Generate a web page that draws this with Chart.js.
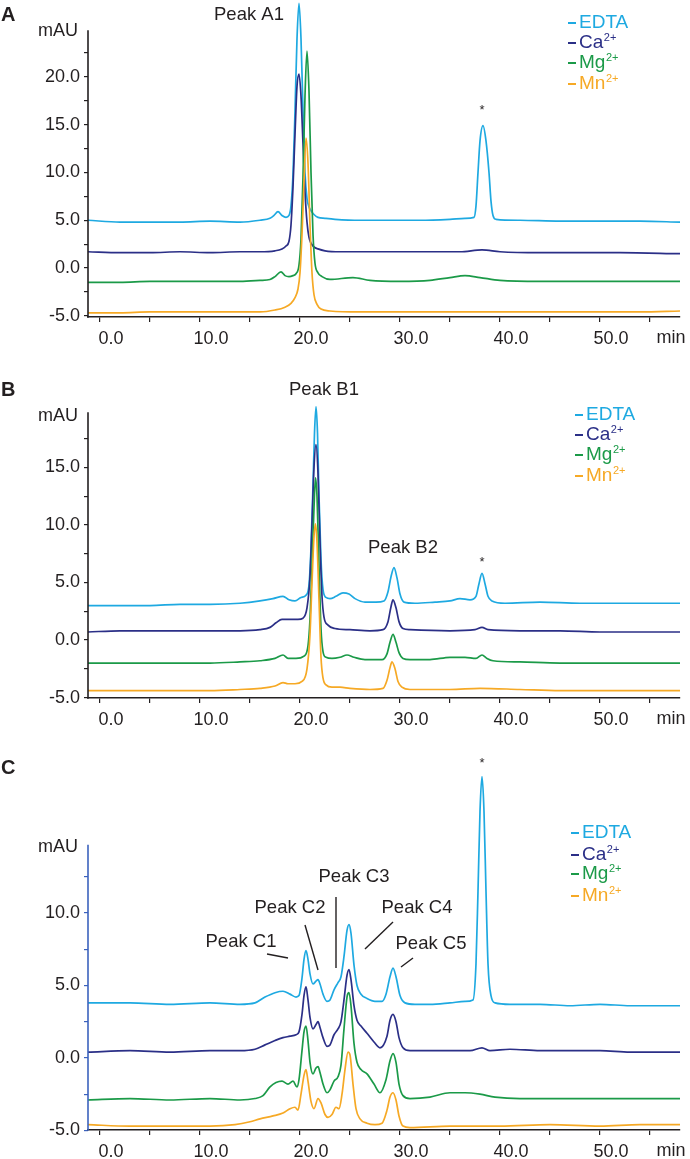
<!DOCTYPE html>
<html>
<head>
<meta charset="utf-8">
<title>Chromatograms A-C</title>
<script src="https://cdn.jsdelivr.net/npm/chart.js@4.4.1/dist/chart.umd.min.js"></script>
<style>
  body { margin: 0; background: #fff; width: 690px; height: 1159px; position: relative; overflow: hidden; }
  .panel { position: absolute; left: 0; width: 690px; }
</style>
</head>
<body>
<div class="panel" style="top:0;height:360px"><canvas id="chartA"></canvas></div>
<div class="panel" style="top:360px;height:380px"><canvas id="chartB"></canvas></div>
<div class="panel" style="top:740px;height:419px"><canvas id="chartC"></canvas></div>

<script>
// series
const seriesNames = ['EDTA', 'Ca', 'Mg', 'Mn'];
const seriesCharges = ['', '2+', '2+', '2+'];
const seriesColors = ['#1ea9e1', '#2b2f87', '#1b9a48', '#f6a925'];

// axis ticks
const xTickValues = [0, 5, 10, 15, 20, 25, 30, 35, 40, 45, 50, 55];
const yTicksA = [-5, -2.5, 0, 2.5, 5, 7.5, 10, 12.5, 15, 17.5, 20, 22.5];
const yTicksB = [-5, -2.5, 0, 2.5, 5, 7.5, 10, 12.5, 15, 17.5];
const yTicksC = [-5, -2.5, 0, 2.5, 5, 7.5, 10, 12.5];

// panel A  [min, mAU]
const aEdta = [[-1.2,5.0],[2,4.8],[5,4.8],[8,4.8],[11,4.9],[14,4.8],[16,5.0],[17.0,5.2],[17.4,5.5],[17.8,5.9],[18.2,5.5],[18.6,5.3],[18.9,5.5],[19.1,6.5],[19.3,9.8],[19.5,16.4],[19.7,24.0],[19.9,27.7],[20.1,24.0],[20.3,16.5],[20.5,10.0],[20.7,7.3],[20.9,6.4],[21.1,6.0],[21.4,5.6],[21.8,5.3],[22.5,5.2],[23.5,5.1],[26,5.0],[29,5.0],[32,5.0],[35,5.1],[36.5,5.2],[37.4,5.3],[37.6,6.5],[37.8,10.0],[38.0,13.3],[38.3,14.9],[38.6,13.3],[38.9,10.0],[39.1,7.0],[39.3,5.5],[39.6,5.1],[42,5.0],[46,4.9],[50,4.9],[54,4.9],[58,4.8]];
const aCa = [[-1.2,1.7],[2,1.6],[5,1.6],[8,1.7],[11,1.6],[14,1.7],[16,1.7],[17.5,1.8],[18.2,2.0],[18.6,2.3],[18.9,2.8],[19.1,4.5],[19.3,8.5],[19.5,14.0],[19.7,19.0],[19.9,20.3],[20.1,18.0],[20.3,13.0],[20.5,8.0],[20.7,4.8],[20.9,3.2],[21.1,2.6],[21.4,2.2],[21.8,2.0],[22.5,1.8],[24,1.7],[28,1.7],[32,1.7],[36,1.7],[38.2,1.9],[40,1.7],[44,1.6],[48,1.6],[52,1.6],[58,1.5]];
const aMg = [[-1.2,-1.5],[2,-1.5],[5,-1.4],[8,-1.4],[11,-1.4],[14,-1.4],[16,-1.3],[17.0,-1.2],[17.5,-0.9],[18.1,-0.4],[18.5,-0.8],[18.9,-0.9],[19.3,-0.8],[19.6,-0.6],[19.9,0.3],[20.1,3.0],[20.3,9.5],[20.5,18.0],[20.7,22.7],[20.9,18.5],[21.1,10.0],[21.3,3.5],[21.5,0.5],[21.8,-0.5],[22.2,-0.9],[23,-1.2],[25.3,-1.0],[27,-1.3],[30,-1.4],[33,-1.3],[35,-1.0],[36.5,-0.8],[38,-1.0],[40,-1.3],[44,-1.4],[48,-1.4],[52,-1.4],[58,-1.4]];
const aMn = [[-1.2,-4.7],[2,-4.7],[5,-4.6],[8,-4.6],[11,-4.6],[14,-4.6],[16,-4.6],[17.5,-4.4],[18.5,-4.1],[19.1,-3.7],[19.5,-3.1],[19.8,-2.2],[20.0,-0.5],[20.2,3.5],[20.4,9.0],[20.6,13.6],[20.8,11.0],[21.0,4.5],[21.2,-0.5],[21.4,-2.8],[21.7,-3.8],[22.1,-4.3],[23,-4.5],[26,-4.6],[30,-4.6],[35,-4.6],[40,-4.6],[45,-4.6],[50,-4.6],[54,-4.6],[58,-4.5]];

// panel B
const bEdta = [[-1.2,3.0],[2,3.0],[5,3.0],[8,3.1],[11,3.1],[14,3.2],[16,3.4],[17.3,3.6],[18.3,3.8],[18.9,3.5],[19.5,3.4],[20.1,3.7],[20.6,3.9],[20.9,4.8],[21.1,8.0],[21.3,13.5],[21.45,18.0],[21.6,20.3],[21.75,18.0],[21.9,12.5],[22.1,7.0],[22.3,4.4],[22.6,3.7],[23.0,3.6],[23.6,3.8],[24.3,4.1],[24.9,4.0],[25.5,3.6],[26.5,3.3],[27.6,3.3],[28.4,3.4],[28.8,4.2],[29.1,5.5],[29.4,6.3],[29.7,5.4],[30.0,4.0],[30.4,3.3],[31.5,3.2],[33.5,3.3],[35,3.4],[36,3.6],[37.0,3.5],[37.6,3.8],[37.9,4.9],[38.2,5.8],[38.5,4.9],[38.8,3.8],[39.2,3.4],[40.5,3.2],[44,3.3],[48,3.2],[52,3.2],[55,3.2],[58,3.2]];
const bCa = [[-1.2,0.7],[2,0.8],[5,0.8],[8,0.8],[11,0.8],[14,0.8],[16,0.9],[17.0,1.1],[17.6,1.5],[18.2,1.8],[19.0,1.8],[19.8,1.8],[20.3,1.9],[20.7,2.8],[21.0,5.5],[21.2,10.0],[21.4,15.0],[21.6,17.0],[21.8,14.5],[22.0,8.5],[22.2,3.8],[22.4,2.0],[22.8,1.3],[23.5,1.0],[25,0.9],[27,0.8],[28.3,0.9],[28.8,1.6],[29.1,2.9],[29.3,3.5],[29.6,2.8],[29.9,1.6],[30.3,1.0],[31,0.9],[35,0.8],[37.5,0.9],[38.2,1.1],[38.8,0.9],[42,0.8],[46,0.8],[50,0.7],[54,0.7],[58,0.7]];
const bMg = [[-1.2,-2.0],[2,-2.0],[5,-2.0],[8,-2.0],[11,-2.0],[14,-1.9],[16,-1.8],[17.5,-1.6],[18.3,-1.3],[18.8,-1.6],[19.6,-1.6],[20.4,-1.4],[20.8,-0.5],[21.0,1.8],[21.2,6.5],[21.4,11.5],[21.55,14.1],[21.7,12.5],[21.9,6.5],[22.1,1.0],[22.3,-1.0],[22.6,-1.5],[23.2,-1.6],[24.0,-1.5],[24.7,-1.3],[25.4,-1.5],[26.5,-1.7],[28.2,-1.7],[28.7,-1.2],[29.0,-0.2],[29.3,0.5],[29.6,-0.2],[29.9,-1.1],[30.3,-1.6],[31,-1.7],[33,-1.7],[35,-1.5],[36.5,-1.5],[37.6,-1.6],[38.2,-1.3],[38.7,-1.6],[39.3,-1.8],[42,-1.9],[46,-2.0],[50,-2.0],[54,-2.0],[58,-2.0]];
const bMn = [[-1.2,-4.4],[2,-4.4],[5,-4.4],[8,-4.4],[11,-4.4],[14,-4.3],[16,-4.2],[17.5,-4.0],[18.3,-3.7],[18.8,-3.8],[19.5,-3.8],[20.2,-3.6],[20.7,-2.5],[21.0,0.5],[21.2,5.0],[21.4,9.0],[21.55,10.1],[21.7,8.5],[21.9,3.5],[22.1,-1.5],[22.3,-3.3],[22.6,-3.9],[23.2,-4.1],[24,-4.1],[25,-4.2],[27,-4.3],[28.3,-4.2],[28.7,-3.5],[29.0,-2.4],[29.2,-1.9],[29.5,-2.5],[29.8,-3.6],[30.2,-4.1],[31,-4.3],[35,-4.3],[38,-4.2],[42,-4.3],[46,-4.4],[50,-4.4],[54,-4.4],[58,-4.4]];

// panel C
const cEdta = [[-1.2,3.8],[3,3.8],[7,3.7],[11,3.8],[14,3.7],[15.5,3.8],[16.5,4.2],[17.5,4.5],[18.3,4.6],[19.0,4.4],[19.6,4.2],[19.9,4.3],[20.2,5.5],[20.4,6.8],[20.6,7.4],[20.8,6.8],[21.0,5.8],[21.3,5.1],[21.6,5.3],[21.8,5.4],[22.0,5.1],[22.3,4.4],[22.7,3.9],[23.0,4.0],[23.4,4.7],[23.8,5.2],[24.1,5.6],[24.4,7.0],[24.7,8.8],[24.9,9.2],[25.1,8.6],[25.4,6.4],[25.7,5.0],[26.1,4.4],[26.7,4.1],[27.5,3.9],[28.2,3.9],[28.6,4.4],[29.0,5.6],[29.3,6.2],[29.6,5.6],[30.0,4.3],[30.5,3.8],[31.5,3.7],[33,3.7],[35,3.8],[36.5,3.9],[37.3,4.0],[37.6,6.5],[37.8,11.5],[38.0,17.0],[38.2,19.4],[38.4,17.0],[38.6,11.5],[38.8,6.5],[39.1,4.3],[39.5,3.8],[41,3.7],[44,3.7],[47,3.6],[50,3.7],[53,3.6],[56,3.6],[58,3.6]];
const cCa = [[-1.2,0.4],[3,0.5],[7,0.4],[11,0.5],[14,0.5],[15.5,0.6],[16.5,0.9],[17.5,1.2],[18.3,1.4],[19.0,1.5],[19.6,1.6],[19.9,1.8],[20.2,3.0],[20.4,4.3],[20.6,4.9],[20.8,4.0],[21.0,2.8],[21.3,2.0],[21.6,2.3],[21.8,2.5],[22.0,2.1],[22.3,1.4],[22.7,0.8],[23.0,0.9],[23.4,1.6],[23.8,2.0],[24.1,2.5],[24.4,4.0],[24.7,5.7],[24.9,6.1],[25.1,5.4],[25.4,3.6],[25.7,2.6],[26.1,2.2],[26.7,1.7],[27.4,1.1],[28.0,0.7],[28.7,1.5],[29.0,2.6],[29.3,3.0],[29.6,2.5],[29.9,1.4],[30.3,0.7],[31,0.5],[33,0.5],[35,0.5],[37,0.5],[38.2,0.7],[39,0.5],[41,0.6],[44,0.5],[47,0.5],[50,0.5],[53,0.4],[56,0.4],[58,0.4]];
const cMg = [[-1.2,-2.9],[3,-2.8],[7,-2.9],[11,-2.8],[14,-2.9],[15.5,-2.8],[16.3,-2.6],[17.0,-2.0],[17.6,-1.7],[18.2,-1.6],[18.8,-1.8],[19.3,-1.6],[19.7,-2.0],[19.9,-1.5],[20.2,0.5],[20.4,1.8],[20.6,2.2],[20.8,1.2],[21.0,-0.3],[21.3,-1.1],[21.6,-0.7],[21.8,-0.6],[22.0,-1.0],[22.3,-1.8],[22.7,-2.4],[23.0,-2.2],[23.4,-1.6],[23.8,-1.3],[24.1,-0.5],[24.4,2.0],[24.7,4.2],[24.9,4.5],[25.1,3.6],[25.4,1.0],[25.7,-0.3],[26.1,-0.8],[26.7,-1.1],[27.4,-1.8],[28.0,-2.4],[28.6,-1.5],[29.0,-0.2],[29.3,0.3],[29.6,-0.3],[29.9,-1.8],[30.3,-2.6],[31,-2.8],[33,-2.7],[35,-2.4],[36.5,-2.4],[38,-2.5],[39.5,-2.7],[42,-2.8],[46,-2.8],[50,-2.8],[54,-2.8],[58,-2.8]];
const cMn = [[-1.2,-4.6],[3,-4.7],[7,-4.7],[11,-4.7],[13.5,-4.6],[15,-4.4],[16,-4.2],[17.3,-4.0],[18.3,-3.8],[19.0,-3.5],[19.5,-3.4],[19.8,-3.6],[20.1,-2.5],[20.4,-1.2],[20.6,-0.8],[20.8,-1.6],[21.1,-3.0],[21.4,-3.5],[21.8,-2.8],[22.1,-3.1],[22.5,-3.9],[22.8,-4.1],[23.2,-3.9],[23.6,-3.4],[23.9,-3.5],[24.2,-2.5],[24.5,-0.8],[24.8,0.4],[25.0,0.2],[25.3,-1.8],[25.6,-3.5],[26.0,-4.2],[26.7,-4.5],[27.5,-4.6],[28.2,-4.5],[28.7,-3.6],[29.0,-2.7],[29.3,-2.4],[29.6,-2.9],[29.9,-4.0],[30.3,-4.7],[31,-4.8],[35,-4.7],[40,-4.7],[45,-4.6],[50,-4.7],[54,-4.6],[58,-4.6]];

const fontFamily = '"Liberation Sans", Arial, Helvetica, sans-serif';
const inkColor = '#231f20';

// draws the y axis line, panel letter, unit, peak labels and the legend
const notesPlugin = {
  id: 'notes',
  afterDraw(chart, args, opts) {
    const ctx = chart.ctx;
    const area = chart.chartArea;
    const xs = chart.scales.x;
    const ys = chart.scales.y;
    ctx.save();

    ctx.strokeStyle = opts.axisColor;
    ctx.lineWidth = 1.6;
    ctx.beginPath();
    ctx.moveTo(area.left, ys.getPixelForValue(opts.axisTop));
    ctx.lineTo(area.left, area.bottom + 0.8);
    ctx.stroke();

    ctx.fillStyle = inkColor;
    ctx.textBaseline = 'middle';
    ctx.textAlign = 'left';
    ctx.font = 'bold 20px ' + fontFamily;
    ctx.fillText(opts.letter, 1, opts.letterY);

    ctx.font = '18px ' + fontFamily;
    ctx.textAlign = 'right';
    ctx.fillText('mAU', 78, opts.unitY);
    ctx.textAlign = 'center';
    ctx.fillText('min', xs.getPixelForValue(57.1), area.bottom + 21);

    ctx.font = '18.5px ' + fontFamily;
    opts.labels.forEach(l => ctx.fillText(l.text, l.x, l.y));

    ctx.strokeStyle = inkColor;
    ctx.lineWidth = 1.4;
    opts.leaders.forEach(l => {
      ctx.beginPath();
      ctx.moveTo(l[0], l[1]);
      ctx.lineTo(l[2], l[3]);
      ctx.stroke();
    });

    ctx.font = '13px ' + fontFamily;
    ctx.fillText('*', opts.star.x, opts.star.y);

    seriesNames.forEach((name, i) => {
      const yy = opts.legendY[i];
      ctx.strokeStyle = seriesColors[i];
      ctx.lineWidth = 2;
      ctx.beginPath();
      ctx.moveTo(opts.legendX, yy);
      ctx.lineTo(opts.legendX + 8, yy);
      ctx.stroke();
      ctx.fillStyle = seriesColors[i];
      ctx.textAlign = 'left';
      ctx.font = '19px ' + fontFamily;
      const tx = opts.legendX + 11;
      ctx.fillText(name, tx, yy);
      if (seriesCharges[i]) {
        const w = ctx.measureText(name).width;
        ctx.font = '11px ' + fontFamily;
        ctx.fillText(seriesCharges[i], tx + w + 0.5, yy - 5);
      }
    });
    ctx.restore();
  }
};

function makeChart(id, series, yMin, yMax, yTicks, axisColor, padTop, padBottom, notes) {
  const ctx = document.getElementById(id).getContext('2d');
  return new Chart(ctx, {
    type: 'line',
    data: {
      datasets: series.map((pts, i) => ({
        label: seriesNames[i] + seriesCharges[i],
        data: pts.map(p => ({ x: p[0], y: p[1] })),
        borderColor: seriesColors[i],
        borderWidth: 1.7,
        pointRadius: 0,
        fill: false,
        cubicInterpolationMode: 'monotone',
        order: series.length - i
      }))
    },
    options: {
      responsive: true,
      maintainAspectRatio: false,
      animation: false,
      events: [],
      layout: { autoPadding: false, padding: { left: 0, right: 10, top: padTop, bottom: padBottom } },
      scales: {
        x: {
          type: 'linear',
          min: -1.2,
          max: 58,
          afterBuildTicks(scale) { scale.ticks = xTickValues.map(v => ({ value: v })); },
          afterFit(scale) { scale.height = 28; scale.paddingLeft = 0; scale.paddingRight = 0; },
          border: { display: true, color: inkColor, width: 1.6 },
          grid: { display: true, drawOnChartArea: false, drawTicks: true, tickLength: 5, color: inkColor, lineWidth: 1.2 },
          ticks: {
            autoSkip: false,
            maxRotation: 0,
            padding: 6,
            labelOffset: 11,
            color: inkColor,
            font: { family: fontFamily, size: 18 },
            callback: v => (v % 10 === 0 ? v.toFixed(1) : '')
          }
        },
        y: {
          type: 'linear',
          min: yMin,
          max: yMax,
          afterBuildTicks(scale) { scale.ticks = yTicks.map(v => ({ value: v })); },
          afterFit(scale) { scale.width = 88; scale.paddingTop = 0; scale.paddingBottom = 0; },
          border: { display: false },
          grid: { display: true, drawOnChartArea: false, drawTicks: true, tickLength: 4, color: axisColor, lineWidth: 1.2 },
          ticks: {
            autoSkip: false,
            padding: 4,
            color: inkColor,
            font: { family: fontFamily, size: 18 },
            callback: v => (v % 5 === 0 ? v.toFixed(1) : '')
          }
        }
      },
      plugins: {
        legend: { display: false },
        tooltip: { enabled: false },
        notes: notes
      }
    },
    plugins: [notesPlugin]
  });
}

makeChart('chartA', [aEdta, aCa, aMg, aMn], -5.13, 27.85, yTicksA, inkColor, 2, 15, {
  axisColor: inkColor, axisTop: 24.9, letter: 'A', letterY: 15, unitY: 31,
  labels: [{ text: 'Peak A1', x: 249, y: 15 }],
  leaders: [],
  star: { x: 482, y: 110 },
  legendX: 568, legendY: [23, 43, 63, 84]
});

makeChart('chartB', [bEdta, bCa, bMg, bMn], -5.04, 20.87, yTicksB, inkColor, 40, 14, {
  axisColor: inkColor, axisTop: 19.8, letter: 'B', letterY: 30, unitY: 56,
  labels: [{ text: 'Peak B1', x: 324, y: 30 }, { text: 'Peak B2', x: 403, y: 188 }],
  leaders: [],
  star: { x: 482, y: 202 },
  legendX: 575, legendY: [55, 75, 95, 116]
});

makeChart('chartC', [cEdta, cCa, cMg, cMn], -4.97, 19.86, yTicksC, '#3b62bd', 30, 1, {
  axisColor: '#3b62bd', axisTop: 14.7, letter: 'C', letterY: 28, unitY: 107,
  labels: [
    { text: 'Peak C1', x: 241, y: 202 },
    { text: 'Peak C2', x: 290, y: 168 },
    { text: 'Peak C3', x: 354, y: 137 },
    { text: 'Peak C4', x: 417, y: 168 },
    { text: 'Peak C5', x: 431, y: 204 }
  ],
  leaders: [[267, 214, 288, 218], [305, 185, 318, 230], [336, 157, 336, 228], [393, 182, 365, 209], [413, 218, 401, 227]],
  star: { x: 482, y: 23 },
  legendX: 571, legendY: [93, 115, 134, 156]
});
</script>
</body>
</html>
